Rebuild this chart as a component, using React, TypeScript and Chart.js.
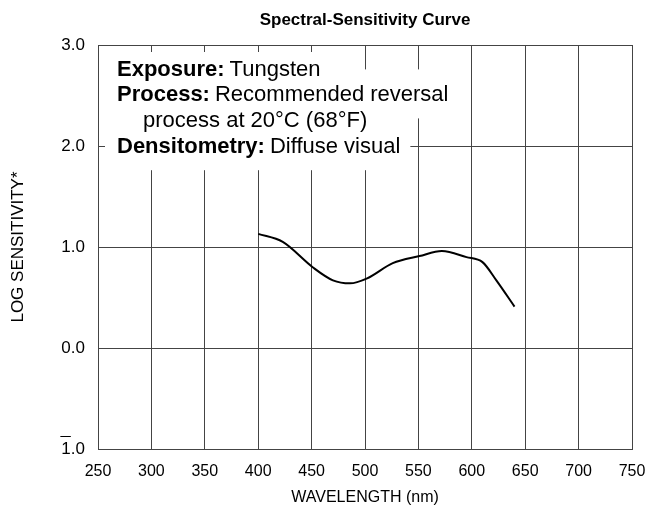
import React, { useEffect, useRef } from "react";
import { Chart, registerables } from "chart.js";

Chart.register(...registerables);

// ---- data ----
const wavelengths = [400, 423, 451, 470, 486, 502, 526, 551, 572, 595, 610, 623, 640];
const logSensitivity = [1.13, 1.05, 0.8, 0.67, 0.64, 0.69, 0.84, 0.91, 0.96, 0.9, 0.85, 0.67, 0.41];
const xTickValues = [250, 300, 350, 400, 450, 500, 550, 600, 650, 700, 750];
const yTickValues = [-1, 0, 1, 2, 3];
const yTickLabels = ["1.0", "0.0", "1.0", "2.0", "3.0"]; // -1 shown as "1.0" with an overbar (bar notation)
const chartTitle = "Spectral-Sensitivity Curve";
const xTitle = "WAVELENGTH (nm)";
const yTitle = "LOG SENSITIVITY*";
const infoLabels = ["Exposure:", "Process:", "", "Densitometry:"];
const infoTexts = ["Tungsten", "Recommended reversal", "process at 20°C (68°F)", "Diffuse visual"];

const FONT = "'Liberation Sans', Arial, Helvetica, sans-serif";
const YTICK_SIZE = 17;

const infoPlugin = {
  id: "infoBox",
  beforeDatasetsDraw(chart: any) {
    const ctx = chart.ctx;
    const x0 = 117;
    const y0 = 69.5;
    const lh = 25.9;
    const size = 22;
    ctx.save();
    ctx.textBaseline = "middle";
    // white backgrounds behind each text line
    infoLabels.forEach((lab, i) => {
      ctx.font = `bold ${size}px ${FONT}`;
      const lw = lab ? ctx.measureText(lab).width + 5 : 0;
      ctx.font = `${size}px ${FONT}`;
      const tw = ctx.measureText(infoTexts[i]).width;
      const indent = lab ? 0 : 26;
      const yc = y0 + i * lh;
      ctx.fillStyle = "#ffffff";
      const top = i === 0 ? 52 : yc - 26;
      ctx.fillRect(x0 - 12, top, indent + lw + tw + 22, yc + 23 - top);
    });
    infoLabels.forEach((lab, i) => {
      const yc = y0 + i * lh;
      let x = x0 + (lab ? 0 : 26);
      ctx.fillStyle = "#000";
      if (lab) {
        ctx.font = `bold ${size}px ${FONT}`;
        ctx.fillText(lab, x, yc);
        x += ctx.measureText(lab).width + 5;
      }
      ctx.font = `${size}px ${FONT}`;
      ctx.fillText(infoTexts[i], x, yc);
    });
    ctx.restore();
  },
  afterDraw(chart: any) {
    const ctx = chart.ctx;
    const area = chart.chartArea;
    // chart title, centred over the plot area
    ctx.save();
    ctx.fillStyle = "#000";
    ctx.font = `bold 17px ${FONT}`;
    ctx.textAlign = "center";
    ctx.textBaseline = "middle";
    ctx.fillText(chartTitle, (area.left + area.right) / 2, 20);
    ctx.restore();
    // overbar for the negative characteristic label (-1 -> 1̄.0)
    const ys = chart.scales.y;
    const py = ys.getPixelForValue(-1);
    ctx.save();
    ctx.font = `${YTICK_SIZE}px ${FONT}`;
    const full = ctx.measureText("1.0").width;
    const one = ctx.measureText("1").width;
    const right = ys.right - 13;
    const left = right - full;
    ctx.strokeStyle = "#000";
    ctx.lineWidth = 1;
    ctx.beginPath();
    ctx.moveTo(left - 1, Math.round(py - 13) + 0.5);
    ctx.lineTo(left + one, Math.round(py - 13) + 0.5);
    ctx.stroke();
    ctx.restore();
  },
};

export default function App() {
  const ref = useRef<HTMLCanvasElement | null>(null);
  useEffect(() => {
    if (!ref.current) return;
    const chart = new Chart(ref.current, {
      type: "line",
      data: {
        datasets: [
          {
            data: wavelengths.map((w, i) => ({ x: w, y: logSensitivity[i] })),
            borderColor: "#000",
            borderWidth: 2,
            pointRadius: 0,
            fill: false,
            cubicInterpolationMode: "monotone",
          },
        ],
      },
      options: {
        responsive: false,
        animation: false,
        layout: { padding: { left: 0, right: 33, top: 45, bottom: 0 } },
        plugins: {
          legend: { display: false },
          tooltip: { enabled: false },
          title: { display: false },
        },
        scales: {
          x: {
            type: "linear",
            min: 250,
            max: 750,
            afterBuildTicks: (s: any) => {
              s.ticks = xTickValues.map((v) => ({ value: v }));
            },
            afterFit: (s: any) => {
              s.height = 69;
            },
            ticks: {
              color: "#000",
              font: { family: FONT, size: 16 },
              padding: 13,
              maxRotation: 0,
              autoSkip: false,
              callback: (v: any) => String(v),
            },
            grid: { color: "#444", lineWidth: 1, drawTicks: false },
            border: { color: "#444", width: 1 },
            title: {
              display: true,
              text: xTitle,
              color: "#000",
              font: { family: FONT, size: 16 },
              padding: { top: 0, bottom: 11 },
            },
          },
          y: {
            type: "linear",
            min: -1,
            max: 3,
            afterBuildTicks: (s: any) => {
              s.ticks = yTickValues.map((v) => ({ value: v }));
            },
            afterFit: (s: any) => {
              s.width = 98;
            },
            ticks: {
              color: "#000",
              font: { family: FONT, size: YTICK_SIZE },
              padding: 13,
              autoSkip: false,
              callback: (v: any) => {
                const i = yTickValues.indexOf(Number(v));
                return i >= 0 ? yTickLabels[i] : "";
              },
            },
            grid: { color: "#444", lineWidth: 1, drawTicks: false },
            border: { color: "#444", width: 1 },
            title: {
              display: true,
              text: yTitle,
              color: "#000",
              font: { family: FONT, size: 17 },
              padding: { top: 8, bottom: 8 },
            },
          },
        },
      },
      plugins: [infoPlugin],
    } as any);
    return () => chart.destroy();
  }, []);
  return (
    <div style={{ position: "fixed", left: 0, top: 0, width: 665, height: 518, background: "#fff" }}>
      <canvas ref={ref} width={665} height={518} style={{ width: 665, height: 518 }} />
    </div>
  );
}
